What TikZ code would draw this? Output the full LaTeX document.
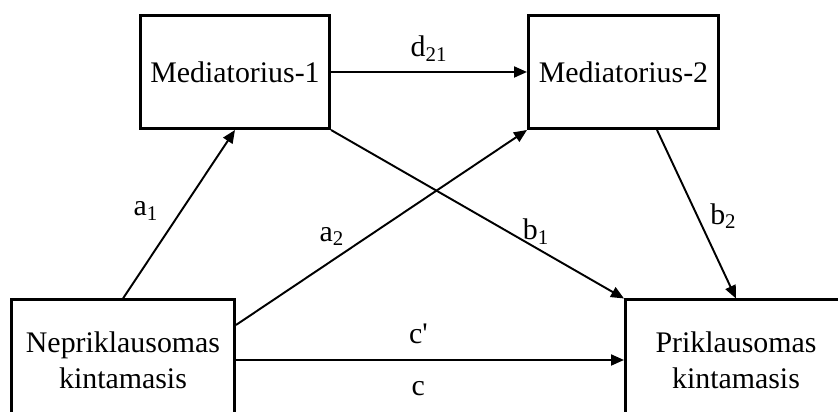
\documentclass[tikz,border=0pt]{standalone}
\usepackage{fontspec}
\setmainfont{Liberation Serif}
\usetikzlibrary{calc}
\usetikzlibrary{arrows.meta}
\tikzset{>={Triangle[length=0.26cm,width=0.22cm]}}
\tikzset{
  box/.style={draw,line width=1.7pt,align=center,inner sep=0pt,
    font=\fontsize{17}{20.5}\selectfont},
  link/.style={->,line width=1.1pt},
  lbl/.style={inner sep=0pt,font=\fontsize{17}{20}\selectfont}
}

\begin{document}
\begin{tikzpicture}[scale=1]
  % 画布
  \useasboundingbox (0,0) rectangle (16.76,8.24);
  \clip (0,0) rectangle (16.76,8.24);

  % 坐标点定义
  \coordinate (M1) at (4.70,6.80);
  \coordinate (M2) at (12.47,6.80);
  \coordinate (X) at (2.46,1.04);
  \coordinate (Y) at (14.72,1.04);

  % 方框
  \node[box,minimum width=3.78cm,minimum height=2.26cm] (med1) at (M1) {Mediatorius-1};
  \node[box,minimum width=3.80cm,minimum height=2.26cm] (med2) at (M2) {Mediatorius-2};
  \node[box,minimum width=4.46cm,minimum height=2.40cm] (nep) at (X) {Nepriklausomas\\kintamasis};
  \node[box,minimum width=4.42cm,minimum height=2.40cm] (prik) at (Y) {Priklausomas\\kintamasis};

  % 箭头
  \draw[link] (med1.east) -- node[lbl,midway,above=0.2cm] (d21) {d\textsubscript{21}} (med2.west);
  \draw[link] (nep.north) -- node[lbl,pos=0.52,left=0.44cm] (a1) {a\textsubscript{1}} (med1.south);
  \draw[link] ([yshift=0.7cm]nep.east) -- node[lbl,pos=0.33,above=0.28cm] (a2) {a\textsubscript{2}} (med2.south west);
  \draw[link] (med1.south east) -- node[lbl,pos=0.70,above=0.05cm] (b1) {b\textsubscript{1}} (prik.north west);
  \draw[link] ([xshift=0.67cm]med2.south) -- node[lbl,pos=0.51,right=0.24cm] (b2) {b\textsubscript{2}} (prik.north);
  \draw[link] (nep.east) -- node[lbl,pos=0.47,above=0.3cm] (cp) {c\textquotesingle}
    node[lbl,pos=0.47,below=0.4cm] (c) {c} (prik.west);
\end{tikzpicture}
\end{document}
